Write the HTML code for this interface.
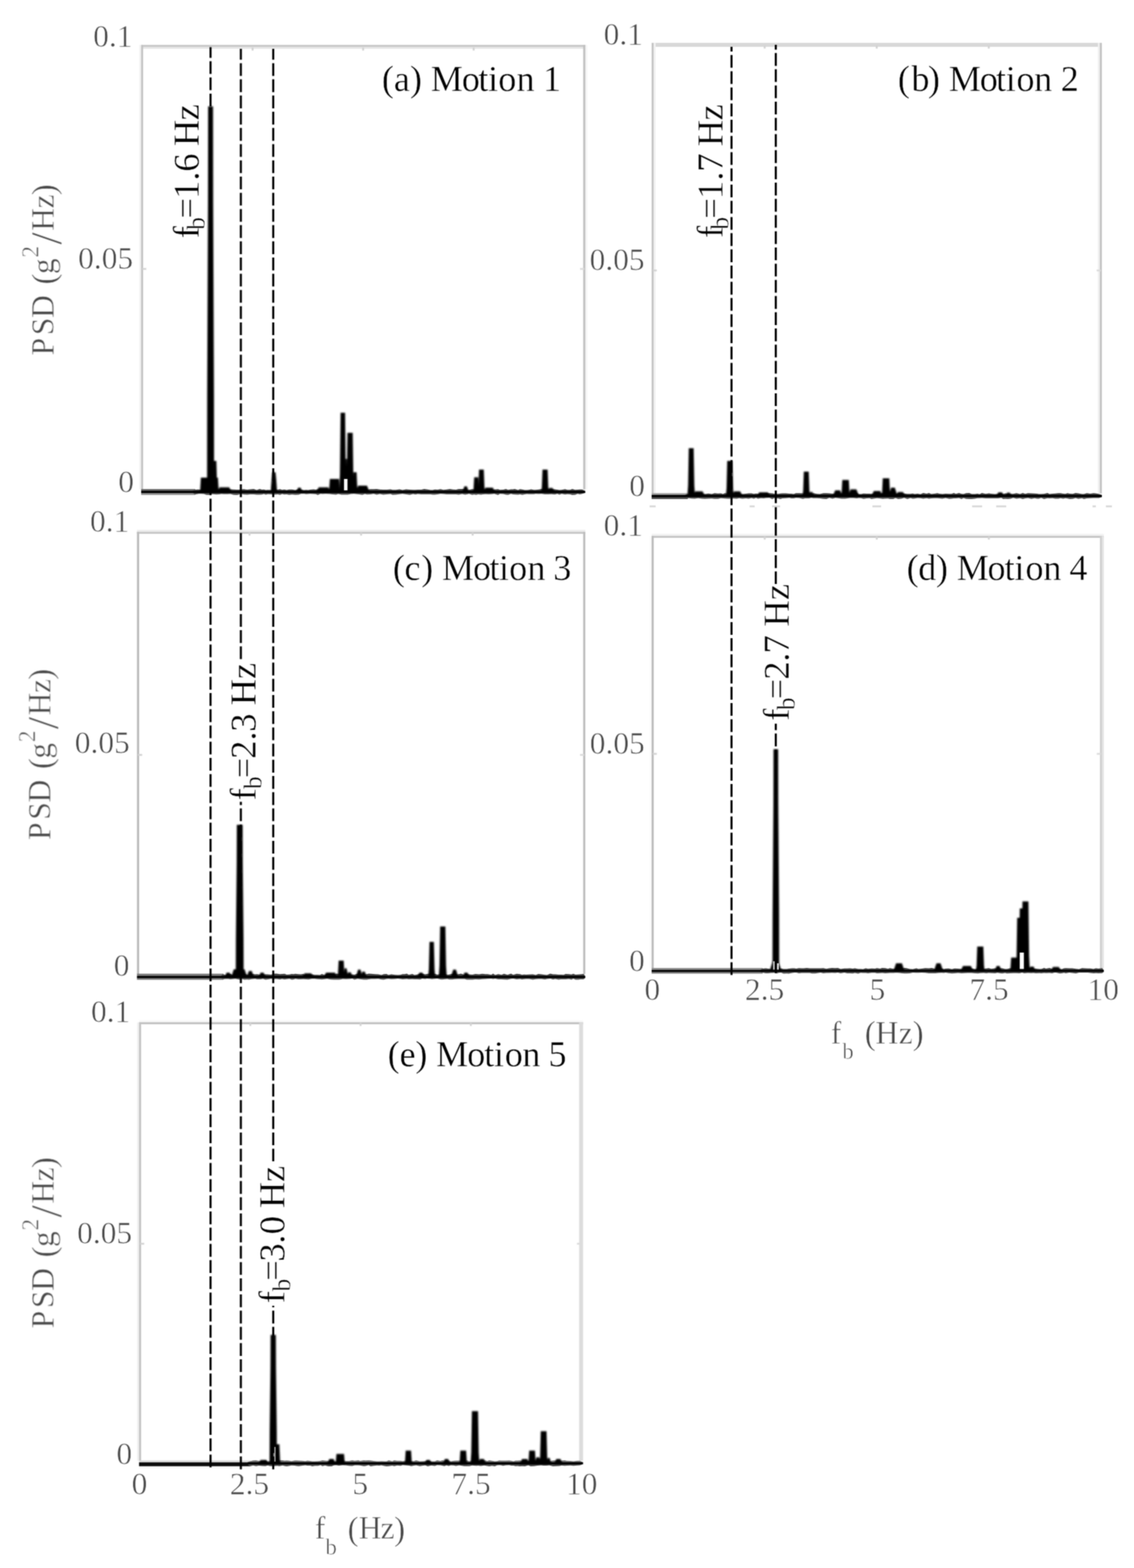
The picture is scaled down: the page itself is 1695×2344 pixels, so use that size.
<!DOCTYPE html>
<html lang="en"><head><meta charset="utf-8"><title>PSD of bridge acceleration for Motions 1-5</title>
<style>html,body{margin:0;padding:0;background:#fff;width:1695px;height:2344px}svg{display:block}text{font-family:"Liberation Serif", "DejaVu Serif", serif;white-space:pre}.cm text{fill:#484848;stroke:#fff;stroke-width:0.70}.pal text{fill:#000;stroke:#fff;stroke-width:0.50}</style>
</head><body>
<svg width="1695" height="2344" viewBox="0 0 1695 2344">
<defs><filter id="soft" x="0" y="0" width="1695" height="2344" filterUnits="userSpaceOnUse" color-interpolation-filters="sRGB"><feConvolveMatrix order="3" kernelMatrix="0.0484 0.1232 0.0484 0.1232 0.3136 0.1232 0.0484 0.1232 0.0484" divisor="1" edgeMode="duplicate" preserveAlpha="false"/></filter><filter id="soft2" x="0" y="0" width="1695" height="2344" filterUnits="userSpaceOnUse"><feGaussianBlur stdDeviation="0.85"/></filter></defs>
<rect width="1695" height="2344" fill="#fff"/>
<g filter="url(#soft)">
<g><rect x="211.00" y="70.10" width="663.80" height="2.90" fill="#e6e6e6"/><rect x="211.00" y="67.10" width="663.80" height="3.00" fill="#c8c8c8"/><rect x="874.80" y="67.20" width="2.80" height="664.40" fill="#f4f4f4"/><rect x="208.30" y="67.20" width="2.70" height="664.40" fill="#f0f0f0"/><rect x="211.00" y="67.20" width="2.90" height="664.40" fill="#c4c4c4"/><rect x="871.70" y="67.20" width="3.10" height="664.40" fill="#c0c0c0"/><rect x="376.20" y="71.00" width="2.80" height="4.60" fill="#d2d2d2"/><rect x="541.40" y="71.00" width="2.80" height="4.60" fill="#d2d2d2"/><rect x="706.60" y="71.00" width="2.80" height="4.60" fill="#d2d2d2"/><rect x="212.40" y="400.60" width="6.20" height="2.80" fill="#d4d4d4"/><rect x="867.00" y="400.60" width="6.20" height="2.80" fill="#dcdcdc"/></g>
<g><rect x="974.00" y="64.10" width="673.00" height="5.90" fill="#d8d8d8"/><rect x="976.90" y="64.20" width="3.10" height="673.50" fill="#f2f2f2"/><rect x="1641.00" y="64.20" width="2.90" height="673.50" fill="#f0f0f0"/><rect x="974.00" y="64.20" width="2.90" height="673.50" fill="#c4c4c4"/><rect x="1643.90" y="64.20" width="3.10" height="673.50" fill="#c4c4c4"/><rect x="1141.57" y="68.00" width="2.80" height="4.60" fill="#d2d2d2"/><rect x="1309.05" y="68.00" width="2.80" height="4.60" fill="#d2d2d2"/><rect x="1476.53" y="68.00" width="2.80" height="4.60" fill="#d2d2d2"/><rect x="975.50" y="402.85" width="6.20" height="2.80" fill="#d4d4d4"/><rect x="1639.20" y="402.85" width="6.20" height="2.80" fill="#dcdcdc"/></g>
<g><rect x="204.70" y="792.10" width="670.10" height="3.00" fill="#ececec"/><rect x="204.70" y="795.10" width="670.10" height="2.90" fill="#c6c6c6"/><rect x="204.70" y="795.20" width="3.30" height="660.90" fill="#bcbcbc"/><rect x="871.70" y="795.20" width="3.10" height="660.90" fill="#bcbcbc"/><rect x="371.63" y="796.00" width="2.80" height="4.60" fill="#d2d2d2"/><rect x="538.35" y="796.00" width="2.80" height="4.60" fill="#d2d2d2"/><rect x="705.08" y="796.00" width="2.80" height="4.60" fill="#d2d2d2"/><rect x="206.30" y="1127.10" width="6.20" height="2.80" fill="#d4d4d4"/><rect x="867.00" y="1127.10" width="6.20" height="2.80" fill="#dcdcdc"/></g>
<g><rect x="974.00" y="798.10" width="675.90" height="3.00" fill="#f2f2f2"/><rect x="974.00" y="801.10" width="675.90" height="2.90" fill="#c4c4c4"/><rect x="971.20" y="801.20" width="2.80" height="646.40" fill="#fafafa"/><rect x="1647.00" y="801.20" width="2.90" height="646.40" fill="#e4e4e4"/><rect x="1644.10" y="801.20" width="2.90" height="646.40" fill="#d0d0d0"/><rect x="974.00" y="801.20" width="3.10" height="646.40" fill="#bcbcbc"/><rect x="1141.62" y="802.00" width="2.80" height="4.60" fill="#d2d2d2"/><rect x="1309.15" y="802.00" width="2.80" height="4.60" fill="#d2d2d2"/><rect x="1476.67" y="802.00" width="2.80" height="4.60" fill="#d2d2d2"/><rect x="975.50" y="1125.55" width="6.20" height="2.80" fill="#d4d4d4"/><rect x="1639.40" y="1125.55" width="6.20" height="2.80" fill="#dcdcdc"/></g>
<g><rect x="207.80" y="1525.20" width="663.70" height="3.00" fill="#f8f8f8"/><rect x="207.80" y="1528.20" width="663.70" height="2.90" fill="#c0c0c0"/><rect x="204.90" y="1528.30" width="2.90" height="655.40" fill="#f0f0f0"/><rect x="865.60" y="1528.30" width="5.90" height="655.40" fill="#dcdcdc"/><rect x="207.80" y="1528.30" width="3.10" height="655.40" fill="#c4c4c4"/><rect x="372.73" y="1529.10" width="2.80" height="4.60" fill="#d2d2d2"/><rect x="537.55" y="1529.10" width="2.80" height="4.60" fill="#d2d2d2"/><rect x="702.38" y="1529.10" width="2.80" height="4.60" fill="#d2d2d2"/><rect x="209.30" y="1857.85" width="6.20" height="2.80" fill="#d4d4d4"/><rect x="862.40" y="1857.85" width="6.20" height="2.80" fill="#dcdcdc"/></g>
<g><rect x="211.00" y="731.10" width="81.00" height="2.90" fill="#666"/><rect x="211.00" y="736.80" width="81.00" height="3.10" fill="#909090"/><rect x="211.00" y="733.80" width="81.00" height="3.20" fill="#000"/><polygon fill="#3c3c3c" points="288.0,734.0 291.6,732.3 294.4,731.7 297.2,731.8 301.1,732.5 304.9,731.2 308.2,731.6 312.5,731.9 315.3,731.2 318.3,732.4 323.4,732.3 327.9,732.0 330.7,732.5 335.3,731.9 339.7,731.9 344.6,731.5 349.0,731.7 353.8,732.1 356.7,731.9 359.8,731.8 364.4,731.3 369.6,732.1 374.0,731.6 379.1,731.1 383.7,732.5 388.2,731.0 391.7,732.0 394.4,731.8 397.3,732.5 400.3,732.2 405.5,732.5 409.8,731.2 415.0,732.1 418.6,731.2 421.7,732.3 425.0,731.8 428.4,732.6 432.1,731.7 436.7,731.7 441.4,732.5 446.3,731.2 450.1,731.9 454.6,732.5 457.8,732.3 460.6,732.6 463.5,732.0 468.7,731.6 472.1,732.0 475.0,731.2 479.0,731.8 481.9,732.0 487.0,732.3 492.5,731.7 496.7,732.5 502.2,731.2 505.6,732.0 510.5,731.7 514.1,732.2 519.7,731.2 524.7,731.4 528.9,732.0 531.6,732.1 536.3,731.0 541.7,731.0 545.4,732.2 548.5,732.3 553.8,731.2 558.4,731.3 563.0,731.1 567.8,731.8 572.8,732.0 578.3,731.9 583.8,731.4 586.7,732.3 591.8,732.3 597.3,731.5 601.6,732.4 607.1,731.5 612.5,731.9 617.5,732.2 621.0,732.2 624.4,731.9 629.7,732.0 634.1,731.1 639.4,731.8 643.6,732.6 646.8,732.6 649.9,731.8 654.1,732.1 658.4,731.3 662.7,732.2 667.6,731.8 672.5,731.1 676.9,731.8 681.6,731.9 685.6,731.1 690.9,731.1 695.1,731.1 698.2,732.4 701.0,732.2 705.6,731.3 708.6,731.4 711.7,731.2 714.9,731.0 719.0,731.0 722.1,731.9 725.7,732.3 730.5,732.6 734.4,732.6 738.9,731.8 744.4,731.3 747.3,732.2 752.3,732.1 756.1,731.1 759.5,732.3 763.8,731.5 766.6,731.5 769.4,731.1 774.4,732.4 777.2,731.2 780.8,731.7 784.2,732.4 787.5,732.4 790.3,732.3 793.8,731.4 797.9,732.3 800.6,732.2 805.4,731.7 809.4,731.1 814.4,731.9 819.5,731.9 824.2,731.0 829.3,731.4 833.1,732.0 836.1,732.5 839.5,732.3 844.6,731.2 848.1,732.2 852.0,732.3 855.4,731.0 859.7,732.2 863.2,732.0 866.9,731.8 870.1,731.8 874.8,734.0"/><polygon fill="#505050" points="288.0,736.8 291.6,739.3 294.4,738.8 297.2,738.2 301.1,738.3 304.9,738.4 308.2,739.8 312.5,739.9 315.3,738.7 318.3,738.7 323.4,739.2 327.9,739.1 330.7,738.5 335.3,738.7 339.7,738.7 344.6,738.6 349.0,739.7 353.8,739.9 356.7,739.5 359.8,738.2 364.4,739.2 369.6,739.4 374.0,739.0 379.1,739.0 383.7,739.4 388.2,739.6 391.7,739.3 394.4,738.5 397.3,739.5 400.3,738.8 405.5,738.9 409.8,739.6 415.0,738.9 418.6,739.8 421.7,738.6 425.0,739.2 428.4,738.9 432.1,739.8 436.7,739.2 441.4,739.7 446.3,739.5 450.1,738.3 454.6,738.3 457.8,738.8 460.6,738.4 463.5,738.2 468.7,738.4 472.1,738.8 475.0,739.9 479.0,738.3 481.9,738.6 487.0,738.2 492.5,738.4 496.7,739.1 502.2,739.4 505.6,738.5 510.5,739.5 514.1,739.6 519.7,739.6 524.7,738.6 528.9,738.2 531.6,738.6 536.3,738.9 541.7,739.8 545.4,738.6 548.5,739.2 553.8,739.0 558.4,738.3 563.0,739.5 567.8,738.5 572.8,739.6 578.3,738.9 583.8,738.5 586.7,739.7 591.8,739.6 597.3,738.8 601.6,738.2 607.1,739.1 612.5,739.7 617.5,738.6 621.0,739.2 624.4,738.4 629.7,739.0 634.1,738.9 639.4,739.1 643.6,738.9 646.8,739.6 649.9,739.4 654.1,739.1 658.4,738.3 662.7,738.6 667.6,739.1 672.5,738.9 676.9,739.1 681.6,739.1 685.6,739.4 690.9,738.6 695.1,739.6 698.2,738.9 701.0,738.3 705.6,739.7 708.6,739.3 711.7,739.8 714.9,738.9 719.0,739.6 722.1,739.1 725.7,738.7 730.5,739.1 734.4,738.7 738.9,738.3 744.4,739.9 747.3,738.2 752.3,738.4 756.1,739.6 759.5,739.8 763.8,738.3 766.6,738.9 769.4,739.3 774.4,739.6 777.2,738.9 780.8,739.8 784.2,739.1 787.5,738.4 790.3,738.7 793.8,738.7 797.9,738.8 800.6,738.2 805.4,738.5 809.4,738.3 814.4,739.0 819.5,739.0 824.2,738.8 829.3,739.3 833.1,738.3 836.1,739.4 839.5,738.3 844.6,739.3 848.1,738.7 852.0,738.9 855.4,739.9 859.7,739.8 863.2,738.2 866.9,739.0 870.1,738.2 874.8,736.8"/><rect x="288.00" y="733.80" width="586.80" height="3.20" fill="#000"/><g fill="#000" filter="url(#soft2)"><polygon points="298.2,735.4 299.3,730.7 300.3,714.0 325.7,714.0 326.7,730.7 327.8,735.4"/><polygon points="309.5,735.4 309.7,591.3 310.9,303.1 311.1,159.0 318.4,159.0 318.6,303.1 319.8,591.3 320.0,735.4"/><polygon points="317.7,735.4 318.8,725.2 319.8,689.0 323.4,689.0 324.4,725.2 325.5,735.4"/><polygon points="324.5,735.4 328.5,728.5 342.5,728.5 346.5,735.4"/><polygon points="404.6,735.4 406.0,716.3 407.0,706.0 411.8,706.0 412.8,716.3 414.2,735.4"/><polygon points="442.5,735.4 445.8,729.0 449.2,729.0 452.5,735.4"/><polygon points="472.5,735.4 476.5,728.5 490.5,728.5 494.5,735.4"/><polygon points="491.0,735.4 492.1,731.1 493.1,716.0 506.7,716.0 507.7,731.1 508.8,735.4"/><polygon points="507.0,735.4 508.1,709.4 509.1,617.0 515.8,617.0 516.8,709.4 517.9,735.4"/><polygon points="514.2,735.4 515.3,724.5 516.3,686.0 518.7,686.0 519.7,724.5 520.8,735.4"/><polygon points="517.3,735.4 518.4,716.0 519.4,647.0 527.2,647.0 528.2,716.0 529.3,735.4"/><polygon points="526.2,735.4 527.3,728.9 528.3,706.0 533.0,706.0 534.0,728.9 535.1,735.4"/><polygon points="531.5,735.4 535.5,726.0 548.5,726.0 552.5,735.4"/><polygon points="690.9,735.4 694.2,727.0 697.8,727.0 701.1,735.4"/><polygon points="706.7,735.4 707.8,730.6 708.8,713.5 714.8,713.5 715.8,730.6 716.9,735.4"/><polygon points="713.9,735.4 715.0,728.1 716.0,702.0 723.1,702.0 724.1,728.1 725.2,735.4"/><polygon points="722.0,735.4 726.0,729.0 736.5,729.0 740.5,735.4"/><polygon points="808.8,735.4 809.9,728.1 810.9,702.0 818.5,702.0 819.5,728.1 820.6,735.4"/><polygon points="817.5,735.4 821.2,729.5 825.8,729.5 829.5,735.4"/></g></g>
<g><rect x="974.00" y="737.20" width="54.00" height="2.90" fill="#a0a0a0"/><rect x="974.00" y="742.90" width="54.00" height="3.10" fill="#4a4a4a"/><rect x="974.00" y="739.90" width="54.00" height="3.20" fill="#000"/><polygon fill="#3c3c3c" points="1024.0,740.1 1027.4,738.5 1030.1,738.6 1033.4,737.7 1038.3,737.6 1043.5,738.1 1049.1,738.4 1053.6,738.6 1058.9,737.7 1063.9,738.5 1068.0,737.3 1073.1,737.7 1077.7,737.6 1080.4,738.5 1083.4,737.3 1087.8,737.7 1091.9,738.7 1096.7,737.9 1101.3,738.6 1104.7,738.6 1109.5,738.4 1115.0,737.9 1119.0,737.6 1123.5,737.6 1126.5,738.3 1130.0,737.8 1132.8,738.2 1137.5,737.6 1141.6,737.9 1144.6,737.2 1150.1,737.2 1154.1,737.4 1158.1,738.2 1163.5,738.3 1166.5,737.8 1169.5,737.4 1174.8,737.5 1180.1,737.9 1182.7,737.9 1186.2,738.5 1189.7,737.3 1194.6,737.3 1200.0,737.5 1203.4,738.1 1209.0,737.7 1212.9,738.2 1215.8,737.3 1221.2,738.3 1225.4,738.4 1230.8,737.3 1235.3,737.2 1239.6,737.5 1244.4,738.0 1248.9,738.2 1254.3,738.5 1257.9,738.2 1263.4,738.3 1266.9,737.8 1270.1,738.4 1275.4,737.9 1280.7,737.1 1283.7,738.4 1287.3,738.5 1290.7,737.8 1295.6,738.0 1299.7,738.1 1302.5,738.2 1305.5,737.9 1310.7,738.3 1314.0,738.0 1319.5,737.3 1322.2,738.6 1327.4,737.9 1330.0,738.1 1335.1,737.3 1338.5,738.5 1342.6,737.6 1347.4,737.6 1351.4,737.8 1356.3,738.3 1360.9,738.2 1364.2,737.7 1367.1,738.6 1371.5,738.1 1375.9,738.7 1379.9,737.1 1385.1,737.9 1388.5,737.1 1392.0,738.6 1396.6,738.0 1401.2,737.2 1403.9,738.1 1408.6,738.4 1413.4,737.9 1418.9,738.2 1422.2,738.3 1425.7,737.1 1428.8,738.3 1433.4,737.1 1437.2,738.3 1440.2,738.6 1444.0,737.2 1448.8,737.1 1452.4,738.4 1457.2,738.6 1461.0,738.1 1464.1,738.7 1467.7,737.1 1473.2,738.3 1478.3,737.4 1481.0,737.9 1486.4,738.4 1491.7,738.6 1496.7,737.4 1499.4,738.6 1502.8,737.5 1506.4,738.2 1510.9,738.3 1514.4,738.2 1519.3,737.2 1524.7,738.6 1528.7,737.1 1532.5,738.3 1536.6,737.2 1541.6,737.5 1546.5,737.7 1550.1,738.1 1552.9,738.4 1556.2,738.6 1560.5,738.2 1565.8,737.1 1568.6,738.5 1573.3,738.0 1577.2,737.7 1582.0,737.3 1585.0,737.3 1589.3,738.1 1592.5,738.3 1595.6,737.3 1599.1,738.0 1603.3,738.3 1607.8,737.1 1611.8,737.4 1617.2,738.6 1620.1,738.4 1624.5,737.2 1629.7,738.0 1634.6,737.2 1639.0,737.7 1642.7,738.5 1647.0,740.1"/><polygon fill="#505050" points="1024.0,742.9 1027.4,745.0 1030.1,744.8 1033.4,745.2 1038.3,745.5 1043.5,744.8 1049.1,745.5 1053.6,745.7 1058.9,745.5 1063.9,745.2 1068.0,745.7 1073.1,745.8 1077.7,744.7 1080.4,744.9 1083.4,745.2 1087.8,745.4 1091.9,745.6 1096.7,745.2 1101.3,745.5 1104.7,744.7 1109.5,745.5 1115.0,744.9 1119.0,745.6 1123.5,744.4 1126.5,745.6 1130.0,744.3 1132.8,745.4 1137.5,744.8 1141.6,745.1 1144.6,744.6 1150.1,744.3 1154.1,745.9 1158.1,744.6 1163.5,745.3 1166.5,745.9 1169.5,745.1 1174.8,744.7 1180.1,744.3 1182.7,745.0 1186.2,744.9 1189.7,744.3 1194.6,744.5 1200.0,745.8 1203.4,744.9 1209.0,744.9 1212.9,744.3 1215.8,744.8 1221.2,744.7 1225.4,744.9 1230.8,745.7 1235.3,745.9 1239.6,744.3 1244.4,745.6 1248.9,744.3 1254.3,745.1 1257.9,745.5 1263.4,745.4 1266.9,744.9 1270.1,744.6 1275.4,744.6 1280.7,745.0 1283.7,744.4 1287.3,744.7 1290.7,745.8 1295.6,745.0 1299.7,744.8 1302.5,745.9 1305.5,745.4 1310.7,744.7 1314.0,745.0 1319.5,745.8 1322.2,745.5 1327.4,745.3 1330.0,745.9 1335.1,746.0 1338.5,744.5 1342.6,745.9 1347.4,745.6 1351.4,744.3 1356.3,745.9 1360.9,744.5 1364.2,745.5 1367.1,745.2 1371.5,744.6 1375.9,744.8 1379.9,745.4 1385.1,744.7 1388.5,745.5 1392.0,745.1 1396.6,744.7 1401.2,744.7 1403.9,745.0 1408.6,745.6 1413.4,744.6 1418.9,745.7 1422.2,745.6 1425.7,745.1 1428.8,745.0 1433.4,744.5 1437.2,746.0 1440.2,744.4 1444.0,745.8 1448.8,745.9 1452.4,745.9 1457.2,745.4 1461.0,744.8 1464.1,744.7 1467.7,744.5 1473.2,744.9 1478.3,745.0 1481.0,744.9 1486.4,744.9 1491.7,745.0 1496.7,744.3 1499.4,745.9 1502.8,745.8 1506.4,745.9 1510.9,745.5 1514.4,744.3 1519.3,745.4 1524.7,744.7 1528.7,745.9 1532.5,745.0 1536.6,744.6 1541.6,745.7 1546.5,744.8 1550.1,745.6 1552.9,745.6 1556.2,744.3 1560.5,746.0 1565.8,744.7 1568.6,745.1 1573.3,744.7 1577.2,745.4 1582.0,745.4 1585.0,744.8 1589.3,745.5 1592.5,744.7 1595.6,745.3 1599.1,746.0 1603.3,745.7 1607.8,744.4 1611.8,745.7 1617.2,744.8 1620.1,746.0 1624.5,744.9 1629.7,744.7 1634.6,744.4 1639.0,744.6 1642.7,744.6 1647.0,742.9"/><rect x="1024.00" y="739.90" width="623.00" height="3.20" fill="#000"/><g fill="#000" filter="url(#soft2)"><polygon points="1027.4,741.5 1028.5,725.8 1029.5,670.0 1036.8,670.0 1037.8,725.8 1038.9,741.5"/><polygon points="1035.5,741.5 1039.5,734.5 1050.0,734.5 1054.0,741.5"/><polygon points="1084.9,741.5 1086.0,730.0 1087.0,689.0 1094.7,689.0 1095.7,730.0 1096.8,741.5"/><polygon points="1093.5,741.5 1097.5,734.5 1106.2,734.5 1110.2,741.5"/><polygon points="1131.0,741.5 1135.0,736.0 1147.5,736.0 1151.5,741.5"/><polygon points="1199.4,741.5 1200.5,733.5 1201.5,705.0 1208.8,705.0 1209.8,733.5 1210.9,741.5"/><polygon points="1207.5,741.5 1210.8,735.5 1214.2,735.5 1217.5,741.5"/><polygon points="1244.5,741.5 1248.5,733.0 1255.5,733.0 1259.5,741.5"/><polygon points="1256.9,741.5 1258.0,736.2 1259.0,717.5 1268.7,717.5 1269.7,736.2 1270.8,741.5"/><polygon points="1267.5,741.5 1271.5,731.5 1280.0,731.5 1284.0,741.5"/><polygon points="1302.2,741.5 1306.2,734.0 1315.5,734.0 1319.5,741.5"/><polygon points="1317.4,741.5 1318.5,735.7 1319.5,715.0 1329.2,715.0 1330.2,735.7 1331.3,741.5"/><polygon points="1328.0,741.5 1332.0,729.0 1337.5,729.0 1341.5,741.5"/><polygon points="1338.5,741.5 1342.5,735.5 1349.5,735.5 1353.5,741.5"/><polygon points="1488.5,741.5 1492.5,736.0 1497.5,736.0 1501.5,741.5"/><polygon points="1502.2,741.5 1505.5,736.5 1509.2,736.5 1512.5,741.5"/></g></g>
<g><rect x="204.70" y="1455.60" width="129.30" height="3.60" fill="#777"/><rect x="204.70" y="1461.80" width="129.30" height="2.80" fill="#707070"/><rect x="204.70" y="1459.00" width="129.30" height="3.00" fill="#000"/><polygon fill="#3c3c3c" points="330.0,1459.2 333.4,1456.2 336.6,1457.4 341.2,1457.1 344.4,1455.8 347.2,1457.3 351.5,1456.2 354.6,1456.1 358.0,1456.8 361.5,1456.3 365.4,1455.7 369.1,1457.1 372.3,1457.5 376.2,1455.8 381.4,1456.5 384.1,1456.3 389.4,1457.3 393.1,1456.4 396.5,1456.4 399.5,1456.5 405.0,1457.1 410.4,1455.5 413.2,1455.6 418.5,1456.2 421.6,1455.9 425.4,1455.7 428.5,1457.0 432.7,1456.7 436.0,1456.0 438.7,1456.3 441.5,1455.8 445.8,1456.3 449.4,1456.6 453.2,1456.1 457.2,1457.4 461.2,1457.0 466.2,1456.5 470.2,1457.3 474.1,1457.3 478.2,1457.4 481.1,1456.0 485.2,1457.4 488.9,1455.5 494.1,1455.4 499.1,1457.1 503.2,1455.5 506.3,1455.9 509.1,1456.8 512.2,1455.6 517.2,1457.2 522.6,1457.0 526.7,1456.8 529.9,1457.1 534.5,1455.6 539.5,1457.2 544.0,1456.7 548.2,1456.3 551.1,1455.4 554.9,1455.8 560.5,1456.3 565.4,1456.6 570.2,1457.4 573.6,1456.2 577.9,1456.1 580.5,1457.4 585.0,1456.6 590.3,1457.2 594.8,1457.4 598.5,1457.3 601.8,1456.3 605.0,1456.2 608.0,1455.6 611.0,1457.3 616.3,1455.9 619.6,1457.4 623.9,1456.8 627.9,1455.6 631.2,1455.6 635.4,1456.6 638.2,1455.9 642.4,1455.6 645.6,1456.2 650.2,1455.8 653.7,1456.9 659.0,1455.9 661.6,1455.7 665.6,1456.0 668.8,1457.3 671.6,1456.8 676.2,1455.7 679.6,1456.3 684.6,1456.4 689.1,1455.5 694.4,1457.4 697.7,1456.0 702.5,1456.8 706.1,1457.0 710.6,1456.1 716.1,1456.5 720.8,1455.7 725.6,1456.3 728.8,1456.2 734.2,1457.2 737.1,1455.6 740.1,1457.4 744.8,1456.2 749.6,1457.3 753.3,1455.8 758.6,1457.3 763.9,1455.5 767.1,1457.2 772.3,1455.8 777.3,1456.2 780.2,1457.3 783.5,1456.8 786.1,1456.9 790.9,1456.7 796.4,1456.4 800.8,1457.4 804.7,1455.9 809.4,1456.4 814.6,1457.3 817.7,1457.5 822.6,1455.5 826.7,1456.5 829.9,1456.5 834.9,1456.9 838.4,1457.0 842.5,1457.2 845.3,1455.9 850.3,1456.2 854.1,1456.7 857.0,1455.7 860.2,1456.9 864.3,1456.7 867.6,1456.5 872.4,1455.9 874.8,1459.2"/><polygon fill="#505050" points="330.0,1461.8 333.4,1464.1 336.6,1463.6 341.2,1463.5 344.4,1463.9 347.2,1463.7 351.5,1463.2 354.6,1463.7 358.0,1464.5 361.5,1463.6 365.4,1464.6 369.1,1464.2 372.3,1464.4 376.2,1463.7 381.4,1463.3 384.1,1464.0 389.4,1464.0 393.1,1463.3 396.5,1464.5 399.5,1464.3 405.0,1463.2 410.4,1463.8 413.2,1463.6 418.5,1464.3 421.6,1463.4 425.4,1464.3 428.5,1463.7 432.7,1463.2 436.0,1464.4 438.7,1464.2 441.5,1463.2 445.8,1464.0 449.4,1463.9 453.2,1463.7 457.2,1464.0 461.2,1464.2 466.2,1463.3 470.2,1463.2 474.1,1463.7 478.2,1464.0 481.1,1464.3 485.2,1463.8 488.9,1463.3 494.1,1464.2 499.1,1464.6 503.2,1464.5 506.3,1464.5 509.1,1464.2 512.2,1463.5 517.2,1463.8 522.6,1463.5 526.7,1463.1 529.9,1464.5 534.5,1463.3 539.5,1463.9 544.0,1464.4 548.2,1464.4 551.1,1464.0 554.9,1463.5 560.5,1463.6 565.4,1463.3 570.2,1464.3 573.6,1464.6 577.9,1463.5 580.5,1463.3 585.0,1463.8 590.3,1463.4 594.8,1463.0 598.5,1463.6 601.8,1464.0 605.0,1463.8 608.0,1463.4 611.0,1464.0 616.3,1463.7 619.6,1464.0 623.9,1464.0 627.9,1464.2 631.2,1463.1 635.4,1463.4 638.2,1463.1 642.4,1463.3 645.6,1463.8 650.2,1463.3 653.7,1463.1 659.0,1464.2 661.6,1464.2 665.6,1463.7 668.8,1463.4 671.6,1464.2 676.2,1464.2 679.6,1463.7 684.6,1463.5 689.1,1463.4 694.4,1463.4 697.7,1464.5 702.5,1464.4 706.1,1464.5 710.6,1464.1 716.1,1464.3 720.8,1463.7 725.6,1463.5 728.8,1463.2 734.2,1463.1 737.1,1463.6 740.1,1463.1 744.8,1464.1 749.6,1464.0 753.3,1464.3 758.6,1464.4 763.9,1463.2 767.1,1463.1 772.3,1464.0 777.3,1463.5 780.2,1464.2 783.5,1463.7 786.1,1463.5 790.9,1463.5 796.4,1464.4 800.8,1463.7 804.7,1463.6 809.4,1463.4 814.6,1464.3 817.7,1463.4 822.6,1463.0 826.7,1464.3 829.9,1463.6 834.9,1464.5 838.4,1464.1 842.5,1464.0 845.3,1464.1 850.3,1463.6 854.1,1464.4 857.0,1463.1 860.2,1464.4 864.3,1464.4 867.6,1463.9 872.4,1464.0 874.8,1461.8"/><rect x="330.00" y="1459.00" width="544.80" height="3.00" fill="#000"/><g fill="#000" filter="url(#soft2)"><polygon points="335.3,1460.5 338.9,1454.0 343.0,1454.0 346.6,1460.5"/><polygon points="352.4,1460.5 352.6,1403.6 353.8,1289.9 354.0,1233.0 362.6,1233.0 362.8,1289.9 364.0,1403.6 364.2,1460.5"/><polygon points="345.5,1460.5 349.5,1449.0 365.5,1449.0 369.5,1460.5"/><polygon points="368.5,1460.5 372.1,1451.5 376.2,1451.5 379.8,1460.5"/><polygon points="386.1,1460.5 389.7,1454.0 393.8,1454.0 397.4,1460.5"/><polygon points="451.4,1460.5 455.4,1455.0 464.9,1455.0 468.9,1460.5"/><polygon points="483.5,1460.5 487.5,1454.0 500.5,1454.0 504.5,1460.5"/><polygon points="504.1,1460.5 505.2,1455.1 506.2,1436.0 513.7,1436.0 514.7,1455.1 515.8,1460.5"/><polygon points="512.5,1460.5 515.3,1447.5 518.0,1447.5 520.8,1460.5"/><polygon points="517.5,1460.5 520.8,1453.5 524.2,1453.5 527.5,1460.5"/><polygon points="532.0,1460.5 535.2,1449.5 538.8,1449.5 542.0,1460.5"/><polygon points="538.5,1460.5 541.8,1452.5 545.2,1452.5 548.5,1460.5"/><polygon points="623.5,1460.5 627.1,1454.0 631.2,1454.0 634.8,1460.5"/><polygon points="639.9,1460.5 641.0,1449.0 642.0,1408.0 648.5,1408.0 649.5,1449.0 650.6,1460.5"/><polygon points="655.8,1460.5 656.9,1443.9 657.9,1385.0 665.7,1385.0 666.7,1443.9 667.8,1460.5"/><polygon points="673.9,1460.5 677.4,1449.5 681.5,1449.5 685.0,1460.5"/><polygon points="690.9,1460.5 694.5,1454.0 698.6,1454.0 702.2,1460.5"/></g></g>
<g><rect x="974.00" y="1447.10" width="166.00" height="3.10" fill="#888"/><rect x="974.00" y="1452.70" width="166.00" height="2.70" fill="#777"/><rect x="974.00" y="1450.00" width="166.00" height="2.90" fill="#000"/><polygon fill="#3c3c3c" points="1136.0,1450.2 1139.6,1448.1 1144.8,1447.5 1147.9,1447.9 1152.2,1448.5 1157.5,1448.3 1161.0,1447.5 1164.0,1448.4 1167.6,1447.8 1171.2,1448.4 1176.0,1448.5 1178.9,1448.0 1183.9,1447.4 1187.1,1447.6 1190.3,1448.0 1194.1,1447.3 1198.2,1447.6 1201.2,1447.6 1206.0,1447.1 1210.4,1447.4 1213.6,1447.4 1218.6,1447.5 1223.2,1447.6 1226.7,1447.6 1230.6,1447.3 1235.1,1448.3 1239.1,1447.6 1243.7,1447.1 1248.2,1447.3 1252.3,1447.0 1256.5,1448.4 1262.0,1447.8 1266.3,1447.8 1270.4,1447.6 1274.6,1448.0 1277.8,1447.5 1282.7,1448.5 1286.4,1448.6 1290.2,1448.7 1294.0,1447.5 1297.4,1448.3 1302.9,1447.8 1307.9,1448.0 1310.8,1447.3 1315.4,1447.9 1318.6,1447.0 1323.1,1447.3 1327.2,1448.2 1330.1,1447.2 1335.3,1448.2 1338.6,1448.0 1341.2,1447.4 1344.6,1448.2 1348.5,1447.6 1352.2,1447.1 1354.9,1447.3 1359.9,1448.5 1364.4,1448.7 1369.8,1447.6 1372.7,1448.4 1377.7,1448.1 1383.0,1447.3 1388.3,1447.6 1392.9,1447.1 1398.0,1448.4 1402.2,1447.4 1407.4,1447.7 1410.7,1448.5 1413.5,1447.9 1417.6,1447.8 1422.8,1448.7 1426.8,1447.7 1431.9,1448.0 1437.4,1448.6 1441.9,1448.6 1446.5,1447.1 1452.1,1447.8 1457.4,1448.6 1461.8,1448.1 1465.5,1447.9 1470.4,1448.3 1474.3,1447.7 1477.8,1447.3 1481.9,1448.2 1487.4,1447.6 1491.0,1448.1 1495.4,1447.6 1498.1,1447.4 1502.3,1448.6 1505.0,1448.4 1509.4,1447.6 1514.7,1447.6 1519.2,1447.5 1523.8,1448.3 1527.8,1447.4 1530.9,1448.6 1536.3,1447.6 1541.4,1447.3 1544.7,1448.2 1548.3,1447.9 1553.7,1448.6 1556.4,1448.5 1560.7,1447.1 1563.4,1448.0 1568.8,1447.0 1572.6,1448.5 1575.9,1448.4 1578.5,1447.5 1584.0,1448.5 1587.0,1448.7 1590.3,1447.4 1593.0,1447.3 1598.2,1447.4 1602.7,1447.5 1608.1,1448.3 1612.8,1448.7 1617.4,1447.3 1620.9,1447.4 1626.1,1447.8 1629.8,1447.7 1634.4,1448.4 1638.1,1447.6 1642.0,1448.0 1647.4,1447.3 1649.9,1450.2"/><polygon fill="#505050" points="1136.0,1452.7 1139.6,1454.1 1144.8,1455.0 1147.9,1455.1 1152.2,1454.6 1157.5,1454.2 1161.0,1455.2 1164.0,1454.3 1167.6,1454.1 1171.2,1455.4 1176.0,1455.3 1178.9,1455.4 1183.9,1454.6 1187.1,1454.1 1190.3,1454.0 1194.1,1454.9 1198.2,1454.6 1201.2,1454.5 1206.0,1454.5 1210.4,1454.5 1213.6,1455.2 1218.6,1455.2 1223.2,1454.6 1226.7,1454.0 1230.6,1455.0 1235.1,1454.5 1239.1,1454.5 1243.7,1454.2 1248.2,1454.5 1252.3,1454.0 1256.5,1455.1 1262.0,1454.1 1266.3,1455.0 1270.4,1455.1 1274.6,1455.3 1277.8,1454.5 1282.7,1455.4 1286.4,1454.3 1290.2,1454.5 1294.0,1454.4 1297.4,1455.0 1302.9,1454.2 1307.9,1454.2 1310.8,1455.1 1315.4,1454.7 1318.6,1454.4 1323.1,1455.1 1327.2,1454.7 1330.1,1454.4 1335.3,1454.5 1338.6,1454.2 1341.2,1454.3 1344.6,1454.6 1348.5,1454.9 1352.2,1455.2 1354.9,1455.3 1359.9,1455.1 1364.4,1453.9 1369.8,1454.3 1372.7,1454.3 1377.7,1454.1 1383.0,1454.2 1388.3,1455.1 1392.9,1455.1 1398.0,1454.9 1402.2,1454.6 1407.4,1454.3 1410.7,1454.6 1413.5,1454.1 1417.6,1454.7 1422.8,1455.2 1426.8,1454.9 1431.9,1454.5 1437.4,1454.9 1441.9,1454.8 1446.5,1454.4 1452.1,1454.6 1457.4,1455.0 1461.8,1455.2 1465.5,1454.7 1470.4,1454.6 1474.3,1455.1 1477.8,1454.5 1481.9,1454.7 1487.4,1455.1 1491.0,1454.3 1495.4,1455.1 1498.1,1455.2 1502.3,1454.4 1505.0,1455.3 1509.4,1455.1 1514.7,1454.8 1519.2,1454.8 1523.8,1454.9 1527.8,1454.1 1530.9,1455.1 1536.3,1454.5 1541.4,1454.7 1544.7,1454.5 1548.3,1454.9 1553.7,1454.8 1556.4,1455.1 1560.7,1454.6 1563.4,1454.8 1568.8,1454.6 1572.6,1454.9 1575.9,1453.9 1578.5,1454.1 1584.0,1455.2 1587.0,1455.0 1590.3,1454.2 1593.0,1455.0 1598.2,1454.0 1602.7,1454.6 1608.1,1455.3 1612.8,1453.9 1617.4,1454.0 1620.9,1454.1 1626.1,1454.0 1629.8,1454.6 1634.4,1455.1 1638.1,1454.8 1642.0,1455.1 1647.4,1454.8 1649.9,1452.7"/><rect x="1136.00" y="1450.00" width="513.90" height="2.90" fill="#000"/><g fill="#000" filter="url(#soft2)"><polygon points="1150.3,1451.4 1155.8,1434.2 1156.8,1425.0 1161.6,1425.0 1162.6,1434.2 1168.1,1451.4"/><polygon points="1154.6,1451.4 1154.8,1368.6 1156.0,1202.8 1156.2,1120.0 1163.1,1120.0 1163.3,1202.8 1164.5,1368.6 1164.7,1451.4"/><polygon points="1335.4,1451.4 1339.4,1440.0 1348.1,1440.0 1352.1,1451.4"/><polygon points="1395.8,1451.4 1399.8,1440.0 1405.8,1440.0 1409.8,1451.4"/><polygon points="1435.5,1451.4 1439.5,1444.0 1451.0,1444.0 1455.0,1451.4"/><polygon points="1458.6,1451.4 1459.7,1443.4 1460.7,1415.0 1469.8,1415.0 1470.8,1443.4 1471.9,1451.4"/><polygon points="1486.3,1451.4 1489.8,1444.0 1494.0,1444.0 1497.5,1451.4"/><polygon points="1509.3,1451.4 1510.4,1447.0 1511.4,1431.5 1520.2,1431.5 1521.2,1447.0 1522.3,1451.4"/><polygon points="1518.3,1451.4 1519.4,1433.9 1520.4,1372.0 1528.2,1372.0 1529.2,1433.9 1530.3,1451.4"/><polygon points="1522.2,1451.4 1523.3,1430.9 1524.3,1358.0 1532.2,1358.0 1533.2,1430.9 1534.3,1451.4"/><polygon points="1526.2,1451.4 1527.3,1428.6 1528.3,1347.6 1537.2,1347.6 1538.2,1428.6 1539.3,1451.4"/><polygon points="1536.5,1451.4 1540.2,1445.0 1544.8,1445.0 1548.5,1451.4"/><polygon points="1570.0,1451.4 1574.0,1445.5 1582.5,1445.5 1586.5,1451.4"/></g></g>
<g><rect x="207.80" y="2183.20" width="166.20" height="3.10" fill="#d8d8d8"/><rect x="207.80" y="2191.60" width="166.20" height="3.10" fill="#f4f4f4"/><rect x="207.80" y="2186.10" width="166.20" height="5.70" fill="#0a0a0a"/><polygon fill="#6a6a6a" points="370.0,2186.1 373.5,2184.5 378.2,2183.2 382.6,2182.9 387.0,2184.1 392.3,2183.9 396.7,2183.0 400.1,2184.6 404.0,2183.6 409.3,2184.5 414.3,2183.1 417.7,2183.1 422.4,2183.0 425.2,2183.6 428.4,2183.3 431.7,2183.5 435.7,2184.2 440.6,2183.2 443.4,2183.2 446.7,2183.6 452.0,2183.7 456.4,2184.3 459.5,2183.4 463.8,2183.9 466.8,2184.5 470.6,2184.4 475.5,2184.3 479.2,2183.7 481.9,2182.9 485.9,2183.6 490.9,2183.9 495.8,2183.2 499.1,2184.5 502.3,2184.4 506.5,2183.1 512.0,2183.0 516.4,2183.9 521.9,2184.1 526.4,2182.9 530.2,2183.8 535.6,2182.9 538.4,2184.1 543.7,2183.0 546.4,2183.2 551.0,2182.9 554.0,2183.3 558.6,2184.1 563.5,2184.4 566.9,2184.4 570.0,2184.2 574.6,2184.6 577.8,2184.5 581.1,2183.0 586.3,2184.4 589.2,2183.0 593.7,2183.8 598.8,2183.8 601.8,2184.2 606.5,2183.6 611.7,2184.1 614.8,2184.1 618.4,2184.3 622.0,2183.0 627.5,2184.5 632.1,2184.2 635.6,2184.1 639.3,2182.9 644.6,2184.4 649.9,2184.5 653.4,2182.9 658.4,2184.0 661.0,2183.1 664.2,2183.8 667.4,2183.6 670.6,2183.3 673.8,2184.5 678.2,2183.7 681.4,2183.5 686.5,2183.6 689.3,2183.3 694.0,2184.5 697.6,2183.1 701.7,2184.6 705.7,2183.1 708.9,2183.1 712.0,2183.9 714.6,2183.7 718.7,2184.4 723.8,2183.1 728.5,2183.9 731.3,2183.1 735.4,2183.7 739.6,2184.6 742.9,2184.3 746.2,2183.2 749.1,2183.4 751.8,2183.6 755.9,2183.4 761.1,2183.3 764.1,2183.7 767.6,2184.4 770.6,2183.6 773.6,2183.6 776.7,2183.2 780.5,2183.9 784.6,2183.9 789.6,2184.0 793.2,2183.8 798.2,2183.0 803.3,2184.5 808.8,2183.0 812.7,2183.5 816.9,2184.5 821.0,2184.6 826.5,2183.2 831.0,2183.2 836.2,2184.5 839.6,2183.4 843.9,2183.0 847.2,2183.7 852.7,2184.1 857.2,2184.4 862.7,2183.7 866.7,2183.7 871.5,2186.1"/><polygon fill="#4a4a4a" points="370.0,2188.8 373.5,2192.0 378.2,2190.8 382.6,2191.7 387.0,2191.0 392.3,2191.4 396.7,2191.7 400.1,2190.7 404.0,2191.7 409.3,2191.7 414.3,2191.2 417.7,2191.7 422.4,2190.8 425.2,2191.6 428.4,2191.9 431.7,2191.4 435.7,2190.7 440.6,2191.0 443.4,2191.6 446.7,2191.8 452.0,2191.1 456.4,2190.5 459.5,2190.9 463.8,2191.1 466.8,2192.0 470.6,2191.3 475.5,2191.3 479.2,2190.2 481.9,2191.8 485.9,2190.7 490.9,2191.9 495.8,2191.9 499.1,2190.6 502.3,2190.3 506.5,2191.0 512.0,2190.3 516.4,2190.4 521.9,2191.2 526.4,2191.4 530.2,2190.5 535.6,2190.6 538.4,2190.8 543.7,2191.7 546.4,2191.5 551.0,2190.3 554.0,2191.9 558.6,2191.3 563.5,2190.8 566.9,2191.1 570.0,2190.5 574.6,2191.5 577.8,2191.9 581.1,2191.8 586.3,2191.0 589.2,2191.7 593.7,2190.8 598.8,2191.3 601.8,2190.3 606.5,2190.5 611.7,2190.9 614.8,2191.7 618.4,2191.1 622.0,2190.4 627.5,2191.8 632.1,2191.1 635.6,2190.6 639.3,2192.0 644.6,2190.7 649.9,2191.5 653.4,2190.2 658.4,2190.5 661.0,2191.1 664.2,2191.8 667.4,2190.4 670.6,2191.5 673.8,2190.4 678.2,2190.7 681.4,2191.5 686.5,2190.6 689.3,2190.9 694.0,2191.7 697.6,2191.8 701.7,2191.8 705.7,2190.7 708.9,2190.9 712.0,2191.3 714.6,2191.0 718.7,2191.5 723.8,2190.8 728.5,2191.6 731.3,2191.9 735.4,2191.2 739.6,2191.9 742.9,2190.4 746.2,2190.3 749.1,2190.6 751.8,2191.2 755.9,2190.4 761.1,2190.3 764.1,2191.1 767.6,2190.9 770.6,2191.7 773.6,2191.5 776.7,2191.9 780.5,2191.7 784.6,2191.9 789.6,2190.6 793.2,2192.0 798.2,2191.7 803.3,2191.1 808.8,2190.6 812.7,2190.9 816.9,2191.0 821.0,2190.5 826.5,2191.9 831.0,2191.8 836.2,2191.4 839.6,2190.7 843.9,2191.3 847.2,2191.0 852.7,2190.7 857.2,2191.3 862.7,2190.7 866.7,2190.5 871.5,2188.8"/><rect x="370.00" y="2185.90" width="501.50" height="3.10" fill="#000"/><g fill="#000" filter="url(#soft2)"><polygon points="385.5,2188.9 389.5,2182.5 398.1,2182.5 402.1,2188.9"/><polygon points="402.9,2188.9 403.1,2140.6 404.3,2043.8 404.5,1995.5 412.3,1995.5 412.5,2043.8 413.7,2140.6 413.9,2188.9"/><polygon points="410.3,2188.9 411.4,2182.3 412.4,2159.0 417.6,2159.0 418.6,2182.3 419.7,2188.9"/><polygon points="488.3,2188.9 492.3,2181.0 498.5,2181.0 502.5,2188.9"/><polygon points="500.8,2188.9 501.9,2185.5 502.9,2173.5 514.2,2173.5 515.2,2185.5 516.3,2188.9"/><polygon points="604.3,2188.9 605.4,2184.4 606.4,2168.5 614.4,2168.5 615.4,2184.4 616.5,2188.9"/><polygon points="633.7,2188.9 637.6,2182.5 642.4,2182.5 646.3,2188.9"/><polygon points="661.1,2188.9 665.0,2181.0 669.8,2181.0 673.7,2188.9"/><polygon points="686.0,2188.9 687.1,2184.4 688.1,2168.5 696.7,2168.5 697.7,2184.4 698.8,2188.9"/><polygon points="703.3,2188.9 704.4,2171.4 705.4,2109.5 714.5,2109.5 715.5,2171.4 716.6,2188.9"/><polygon points="713.5,2188.9 717.5,2181.0 723.2,2181.0 727.2,2188.9"/><polygon points="776.4,2188.9 780.4,2181.0 788.0,2181.0 792.0,2188.9"/><polygon points="788.9,2188.9 790.0,2184.4 791.0,2168.5 799.6,2168.5 800.6,2184.4 801.7,2188.9"/><polygon points="798.5,2188.9 802.0,2178.5 806.0,2178.5 809.5,2188.9"/><polygon points="806.2,2188.9 807.3,2178.1 808.3,2139.6 816.9,2139.6 817.9,2178.1 819.0,2188.9"/><polygon points="816.0,2188.9 818.9,2179.5 821.6,2179.5 824.5,2188.9"/><polygon points="827.6,2188.9 831.6,2181.0 837.6,2181.0 841.6,2188.9"/></g></g>
<rect x="514.2" y="716" width="5.2" height="17" fill="#fff"/>
<rect x="1524.2" y="1424" width="6.2" height="24.5" fill="#fff"/>
<rect x="1155.6" y="1437" width="2.2" height="12.5" fill="#ddd"/><rect x="1161.4" y="1440" width="2.6" height="9.5" fill="#eee"/>
<rect x="408.6" y="2163" width="3.4" height="22" fill="#999"/>
<g>
<line x1="314.70" y1="70.50" x2="314.70" y2="2194.80" stroke="#000" stroke-width="3.10" stroke-dasharray="19.10 5.12" stroke-dashoffset="3.22"/>
<line x1="360.00" y1="73.00" x2="360.00" y2="2197.20" stroke="#000" stroke-width="3.10" stroke-dasharray="19.10 5.12" stroke-dashoffset="2.82"/>
<line x1="408.40" y1="73.00" x2="408.40" y2="2197.20" stroke="#000" stroke-width="3.10" stroke-dasharray="19.10 5.12" stroke-dashoffset="2.82"/>
<line x1="1093.40" y1="70.00" x2="1093.40" y2="1458.00" stroke="#000" stroke-width="3.10" stroke-dasharray="19.10 5.12" stroke-dashoffset="12.02"/>
<line x1="1159.60" y1="67.00" x2="1159.60" y2="1456.50" stroke="#000" stroke-width="3.10" stroke-dasharray="19.10 5.12" stroke-dashoffset="11.92"/>
</g>
<rect x="341" y="985.6" width="51" height="213" fill="#fff"/>
<rect x="384" y="1736" width="50" height="216" fill="#fff"/>
<rect x="1140" y="873" width="49" height="208.8" fill="#fff"/>
<g class="cm">
<text x="197.90" y="69.50" font-size="47.0" text-anchor="end">0.1</text>
<text x="199.00" y="402.30" font-size="47.0" text-anchor="end">0.05</text>
<text x="200.20" y="736.20" font-size="47.0" text-anchor="end">0</text>
<text x="961.10" y="66.90" font-size="47.0" text-anchor="end">0.1</text>
<text x="963.60" y="404.20" font-size="47.0" text-anchor="end">0.05</text>
<text x="964.00" y="742.00" font-size="47.0" text-anchor="end">0</text>
<text x="193.20" y="795.20" font-size="47.0" text-anchor="end">0.1</text>
<text x="194.00" y="1126.30" font-size="47.0" text-anchor="end">0.05</text>
<text x="193.50" y="1459.00" font-size="47.0" text-anchor="end">0</text>
<text x="961.10" y="800.60" font-size="47.0" text-anchor="end">0.1</text>
<text x="963.70" y="1126.60" font-size="47.0" text-anchor="end">0.05</text>
<text x="963.80" y="1451.50" font-size="47.0" text-anchor="end">0</text>
<text x="194.70" y="1527.80" font-size="47.0" text-anchor="end">0.1</text>
<text x="197.40" y="1859.00" font-size="47.0" text-anchor="end">0.05</text>
<text x="197.50" y="2189.00" font-size="47.0" text-anchor="end">0</text>
<text x="975.00" y="1495.00" font-size="47.0" text-anchor="middle">0</text>
<text x="1142.80" y="1495.00" font-size="47.0" text-anchor="middle">2.5</text>
<text x="1311.50" y="1495.00" font-size="47.0" text-anchor="middle">5</text>
<text x="1478.30" y="1495.00" font-size="47.0" text-anchor="middle">7.5</text>
<text x="1649.00" y="1495.00" font-size="47.0" text-anchor="middle">10</text>
<text x="208.50" y="2233.50" font-size="47.0" text-anchor="middle">0</text>
<text x="372.80" y="2233.50" font-size="47.0" text-anchor="middle">2.5</text>
<text x="538.50" y="2233.50" font-size="47.0" text-anchor="middle">5</text>
<text x="704.00" y="2233.50" font-size="47.0" text-anchor="middle">7.5</text>
<text x="869.60" y="2233.50" font-size="47.0" text-anchor="middle">10</text>
</g>
<g class="cm">
<text font-size="47.5" x="1241.86 1258.95 1275.60 1292.38 1308.46 1343.33 1363.97" y="1559.80 1583.30 1559.80 1561.30 1559.80 1559.80 1561.30">f<tspan font-size="34.0">b</tspan> <tspan font-size="50.0">(</tspan>Hz<tspan font-size="50.0">)</tspan></text>
<text font-size="47.5" x="470.46 486.55 503.20 519.43 536.06 568.63 588.97" y="2300.00 2323.50 2300.00 2301.50 2300.00 2300.00 2301.50">f<tspan font-size="34.0">b</tspan> <tspan font-size="50.0">(</tspan>Hz<tspan font-size="50.0">)</tspan></text>
<text transform="translate(80.20 531.90) rotate(-90)" font-size="47.5" x="0.46 30.73 56.62 90.00 106.58 122.06 146.80 166.13 186.71 220.13 239.92" y="0.00 0.00 0.00 0.00 1.50 0.00 -23.00 11.00 0.00 0.00 1.50">PSD <tspan font-size="50.0">(</tspan>g<tspan font-size="35.0">2</tspan><tspan font-size="66.0">/</tspan>Hz<tspan font-size="50.0">)</tspan></text>
<text transform="translate(75.30 1256.30) rotate(-90)" font-size="47.5" x="0.46 30.73 56.62 90.00 106.58 122.06 146.80 166.13 186.71 220.13 239.92" y="0.00 0.00 0.00 0.00 1.50 0.00 -23.00 11.00 0.00 0.00 1.50">PSD <tspan font-size="50.0">(</tspan>g<tspan font-size="35.0">2</tspan><tspan font-size="66.0">/</tspan>Hz<tspan font-size="50.0">)</tspan></text>
<text transform="translate(80.20 1986.30) rotate(-90)" font-size="47.5" x="0.46 30.73 56.62 90.00 106.58 122.06 146.80 166.13 186.71 220.13 239.92" y="0.00 0.00 0.00 0.00 1.50 0.00 -23.00 11.00 0.00 0.00 1.50">PSD <tspan font-size="50.0">(</tspan>g<tspan font-size="35.0">2</tspan><tspan font-size="66.0">/</tspan>Hz<tspan font-size="50.0">)</tspan></text>
</g>
<g class="pal">
<text font-size="54.0" x="570.64 588.74 612.68 630.90 643.86 690.20 714.89 729.50 744.85 771.94 801.60 811.55" y="135.80 135.80 135.80 135.80 135.80 135.80 135.80 135.80 135.80 135.80 135.80 135.80">(a) Motion 1</text>
<text font-size="54.0" x="1341.94 1362.23 1386.93 1404.30 1418.16 1464.50 1488.74 1503.30 1519.15 1545.79 1575.00 1585.55" y="135.80 135.80 135.80 135.80 135.80 135.80 135.80 135.80 135.80 135.80 135.80 135.80">(b) Motion 2</text>
<text font-size="54.0" x="587.34 604.57 629.38 646.70 660.56 706.95 731.59 745.75 761.10 788.24 817.50 827.06" y="866.70 866.70 866.70 866.70 866.70 866.70 866.70 866.70 866.70 866.70 866.70 866.70">(c) Motion 3</text>
<text font-size="54.0" x="1355.19 1372.60 1398.98 1415.90 1430.11 1476.05 1501.59 1516.20 1532.80 1559.49 1588.30 1598.44" y="866.70 866.70 866.70 866.70 866.70 866.70 866.70 866.70 866.70 866.70 866.70 866.70">(d) Motion 4</text>
<text font-size="54.0" x="579.44 597.20 620.68 638.00 651.86 698.20 723.79 738.30 754.55 780.79 809.60 819.79" y="1593.80 1593.80 1593.80 1593.80 1593.80 1593.80 1593.80 1593.80 1593.80 1593.80 1593.80 1593.80">(e) Motion 5</text>
<text transform="translate(297.00 356.00) rotate(-90)" font-size="55.0" x="-0.35 12.52 29.16 58.53 85.97 99.24 127.35 137.60 175.97" y="0.00 9.00 0.00 0.00 0.00 0.00 0.00 0.00 0.00">f<tspan font-size="38.0">b</tspan>=1.6 Hz</text>
<text transform="translate(1079.80 355.40) rotate(-90)" font-size="55.0" x="-0.40 12.22 28.31 57.63 85.38 98.78 127.55 136.75 175.12" y="0.00 9.00 0.00 0.00 0.00 0.00 0.00 0.00 0.00">f<tspan font-size="38.0">b</tspan>=1.7 Hz</text>
<text transform="translate(382.00 1198.00) rotate(-90)" font-size="55.0" x="1.40 18.52 34.56 63.61 90.92 104.06 132.05 143.55 182.72" y="0.00 9.00 0.00 0.00 0.00 0.00 0.00 0.00 0.00">f<tspan font-size="38.0">b</tspan>=2.3 Hz</text>
<text transform="translate(1179.00 1078.00) rotate(-90)" font-size="55.0" x="0.40 16.62 32.41 61.86 88.72 101.08 129.85 141.15 180.72" y="0.00 9.00 0.00 0.00 0.00 0.00 0.00 0.00 0.00">f<tspan font-size="38.0">b</tspan>=2.7 Hz</text>
<text transform="translate(424.60 1949.60) rotate(-90)" font-size="55.0" x="1.40 19.12 34.91 63.56 90.47 104.40 132.15 143.40 182.52" y="0.00 9.00 0.00 0.00 0.00 0.00 0.00 0.00 0.00">f<tspan font-size="38.0">b</tspan>=3.0 Hz</text>
</g>
<g fill="#d6d6d6">
<rect x="971.00" y="755.60" width="9.00" height="2.70"/>
<rect x="1120.50" y="755.60" width="7.50" height="2.70"/>
<rect x="1154.00" y="755.60" width="12.00" height="2.70"/>
<rect x="1304.00" y="755.60" width="13.00" height="2.70"/>
<rect x="1453.00" y="755.60" width="15.00" height="2.70"/>
<rect x="1489.00" y="755.60" width="15.00" height="2.70"/>
<rect x="1633.00" y="755.60" width="5.00" height="2.70"/>
<rect x="1653.00" y="755.60" width="9.00" height="2.70"/>
</g>
</g>
</svg>
</body></html>
